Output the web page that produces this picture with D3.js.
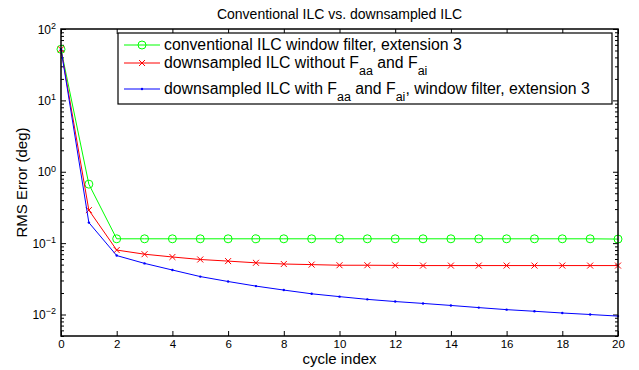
<!DOCTYPE html>
<html>
<head>
<meta charset="utf-8">
<title>ilc-rms</title>
<script src="https://cdn.jsdelivr.net/npm/d3@7"></script>
<style>
    body { margin: 0; background: #fff; font-family: "Liberation Sans", Arial, sans-serif; }
    .tick text { font-size: 12px; fill: #000; }
</style>
</head>
<body>
<div id="chart"></div>
<script>
var cycles = d3.range(0, 21);
var conventional = [52, 0.67, 0.115, 0.115, 0.115, 0.115, 0.115, 0.115, 0.115, 0.115, 0.115,
                    0.115, 0.115, 0.115, 0.115, 0.115, 0.115, 0.115, 0.115, 0.115, 0.114];
var dsNoFilter = [52, 0.29, 0.080, 0.070, 0.064, 0.059, 0.056, 0.053, 0.051, 0.050, 0.049,
                  0.049, 0.0488, 0.0485, 0.0485, 0.0485, 0.0485, 0.0485, 0.0485, 0.0485, 0.0485];
var dsFilter = [52, 0.194, 0.067, 0.052, 0.042, 0.034, 0.029, 0.025, 0.022, 0.0195, 0.0178,
                0.0163, 0.0152, 0.0143, 0.0134, 0.0125, 0.0117, 0.0111, 0.0105, 0.0100, 0.0095];
var xTicks = d3.range(0, 21, 2);
var yTicks = [0.01, 0.1, 1, 10, 100];
var yExps = ['\u22122', '\u22121', '0', '1', '2'];

var width = 639, height = 370;
var mLeft = 61, mRight = 618, mTop = 29, mBottom = 336;

var svg = d3.select('#chart').append('svg')
            .attr('width', width).attr('height', height);

var x = d3.scaleLinear().domain([0, 20]).range([mLeft, mRight]);
var y = d3.scaleLog().domain([0.005, 100]).range([mBottom, mTop]);

// minor ticks for log axis
var minor = [];
[0.001, 0.01, 0.1, 1, 10].forEach(function(d) {
    for (var k = 2; k <= 9; k++) {
        var v = d * k;
        if (v >= 0.005 && v <= 100) minor.push(v);
    }
});

function styleAxis(g) {
    g.select('.domain').remove();
    g.selectAll('.tick line').attr('stroke', '#000').attr('stroke-width', 1);
}

// x axis bottom / top, ticks inward
svg.append('g').attr('class', 'xb').attr('transform', 'translate(0,' + mBottom + ')')
   .call(d3.axisBottom(x).tickValues(xTicks).tickSize(-5).tickPadding(4).tickFormat(d3.format('d')))
   .call(styleAxis);
svg.selectAll('.xb .tick text').attr('y', 4).attr('dy', '0.71em').style('font-size', '11.5px');
svg.append('g').attr('transform', 'translate(0,' + mTop + ')')
   .call(d3.axisTop(x).tickValues(xTicks).tickSize(-5).tickFormat(''))
   .call(styleAxis);

// y axis left / right
var yl = svg.append('g').attr('transform', 'translate(' + mLeft + ',0)')
   .call(d3.axisLeft(y).tickValues(yTicks).tickSize(-5).tickFormat(''))
   .call(styleAxis);
yl.selectAll('.tick').each(function(d, i) {
    var t = d3.select(this).append('text')
              .attr('x', -5).attr('dy', '0.35em')
              .attr('text-anchor', 'end');
    t.append('tspan').text('10');
    t.append('tspan').attr('dy', '-0.55em').attr('font-size', '9px').text(yExps[i]);
});
svg.append('g').attr('transform', 'translate(' + mLeft + ',0)')
   .call(d3.axisLeft(y).tickValues(minor).tickSize(-3).tickFormat(''))
   .call(styleAxis);
svg.append('g').attr('transform', 'translate(' + mRight + ',0)')
   .call(d3.axisRight(y).tickValues(yTicks).tickSize(-5).tickFormat(''))
   .call(styleAxis);
svg.append('g').attr('transform', 'translate(' + mRight + ',0)')
   .call(d3.axisRight(y).tickValues(minor).tickSize(-3).tickFormat(''))
   .call(styleAxis);

// series
var line = d3.line()
             .x(function(d, i) { return x(cycles[i]); })
             .y(function(d) { return y(d); });

var series = [
    {data: conventional, color: '#00ff00', marker: 'circle'},
    {data: dsNoFilter, color: '#ff0000', marker: 'cross'},
    {data: dsFilter, color: '#0000ff', marker: 'dot'}
];

function drawMarker(g, type, color, cx, cy) {
    if (type == 'circle') {
        g.append('circle').attr('cx', cx).attr('cy', cy).attr('r', 4)
         .attr('fill', 'none').attr('stroke', color).attr('stroke-width', 1);
    } else if (type == 'cross') {
        g.append('path')
         .attr('d', 'M' + (cx - 3) + ',' + (cy - 3) + 'L' + (cx + 3) + ',' + (cy + 3) +
                    'M' + (cx - 3) + ',' + (cy + 3) + 'L' + (cx + 3) + ',' + (cy - 3))
         .attr('stroke', color).attr('stroke-width', 1);
    } else {
        g.append('circle').attr('cx', cx).attr('cy', cy).attr('r', 1.2).attr('fill', color);
    }
}

series.forEach(function(s) {
    var g = svg.append('g');
    g.append('path').datum(s.data)
     .attr('d', line)
     .attr('fill', 'none').attr('stroke', s.color).attr('stroke-width', 1);
    s.data.forEach(function(d, i) {
        drawMarker(g, s.marker, s.color, x(cycles[i]), y(d));
    });
});

// frame
svg.append('rect')
   .attr('x', mLeft).attr('y', mTop)
   .attr('width', mRight - mLeft).attr('height', mBottom - mTop)
   .attr('fill', 'none').attr('stroke', '#000').attr('stroke-width', 1.5);

// title and labels
svg.append('text')
   .attr('x', (mLeft + mRight) / 2).attr('y', 19)
   .attr('text-anchor', 'middle').attr('font-size', '14px')
   .text('Conventional ILC vs. downsampled ILC');

svg.append('text')
   .attr('x', (mLeft + mRight) / 2).attr('y', 364)
   .attr('text-anchor', 'middle').attr('font-size', '15px')
   .text('cycle index');

svg.append('text')
   .attr('transform', 'translate(27,' + ((mTop + mBottom) / 2) + ') rotate(-90)')
   .attr('text-anchor', 'middle').attr('font-size', '15px')
   .text('RMS Error (deg)');

// legend
var legend = svg.append('g');
legend.append('rect')
      .attr('x', 118).attr('y', 33).attr('width', 494).attr('height', 71)
      .attr('fill', '#fff').attr('stroke', '#000').attr('stroke-width', 1.2);

var legendRows = [
    {y: 45, parts: [['conventional ILC window filter, extension 3', 0]]},
    {y: 63, parts: [['downsampled ILC without F', 0], ['aa', 1], [' and F', 0], ['ai', 1]]},
    {y: 89, parts: [['downsampled ILC with F', 0], ['aa', 1], [' and F', 0], ['ai', 1],
                    [', window filter, extension 3', 0]]}
];

legendRows.forEach(function(r, i) {
    var s = series[i];
    legend.append('line')
          .attr('x1', 124).attr('x2', 160).attr('y1', r.y).attr('y2', r.y)
          .attr('stroke', s.color).attr('stroke-width', 1);
    drawMarker(legend, s.marker, s.color, 142, r.y);
    var t = legend.append('text')
                  .attr('x', 164).attr('y', r.y + 5)
                  .attr('font-size', '15.8px');
    var down = false;
    r.parts.forEach(function(p) {
        var ts = t.append('tspan').text(p[0]);
        if (p[1]) ts.attr('font-size', '12.5px');
        if (p[1] && !down) { ts.attr('dy', 7); down = true; }
        else if (!p[1] && down) { ts.attr('dy', -7); down = false; }
    });
});
</script>
</body>
</html>
